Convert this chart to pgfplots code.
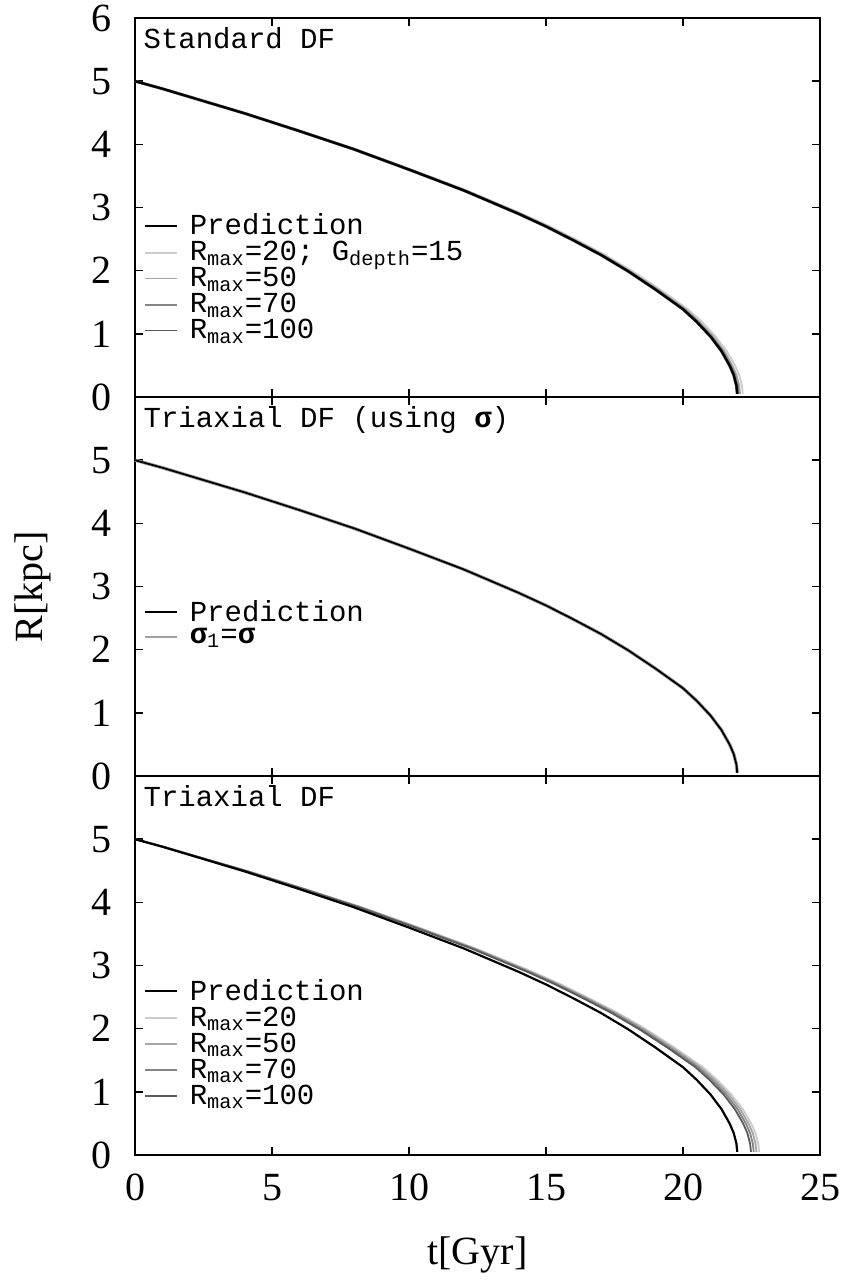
\documentclass[border=0pt]{standalone}
\usepackage{pgfplots}
\pgfplotsset{compat=1.18}
\usepackage{pgfplotstable}
\usepackage{fontspec}
\setmainfont{Liberation Serif}
\newfontfamily\mono{Liberation Mono}
\newcommand{\sig}{{\bfseries σ}}
\definecolor{g20}{HTML}{CCCCCC}
\definecolor{g50}{HTML}{A6A6A6}
\definecolor{g70}{HTML}{858585}
\definecolor{g100}{HTML}{5A5A5A}
\definecolor{gs}{HTML}{A0A0A0}

\pgfplotstableread{
t R t20 t50 t70
0 5.00 0 0 0
1 4.88 1.01 1.00 1.00
2 4.75 2.02 2.01 2.00
3 4.62 3.03 3.01 3.01
4 4.49 4.04 4.02 4.01
6 4.21 6.05 6.03 6.01
8 3.92 8.07 8.04 8.02
10 3.60 10.09 10.05 10.02
12 3.27 12.11 12.05 12.03
14 2.90 14.13 14.06 14.03
15 2.70 15.14 15.07 15.03
16 2.48 16.15 16.07 16.04
17 2.25 17.15 17.08 17.04
18 1.99 18.16 18.08 18.04
19 1.70 19.17 19.09 19.04
20 1.39 20.18 20.09 20.05
20.5 1.19 20.69 20.59 20.55
21 0.96 21.19 21.10 21.05
21.4 0.73 21.59 21.50 21.45
21.7 0.50 21.90 21.80 21.75
21.85 0.35 22.05 21.95 21.90
21.95 0.18 22.15 22.05 22.00
21.98 0.05 22.18 22.08 22.03
}\toptab

\pgfplotstableread{
t R t20 t50 t70 t100
0 5.00 0 0 0 0
1 4.88 1.036 1.032 1.027 1.023
2 4.75 2.073 2.064 2.055 2.045
3 4.62 3.109 3.095 3.082 3.068
4 4.49 4.145 4.127 4.109 4.091
6 4.21 6.218 6.191 6.164 6.136
8 3.92 8.291 8.255 8.218 8.182
10 3.60 10.364 10.318 10.273 10.227
12 3.27 12.436 12.382 12.327 12.273
14 2.90 14.509 14.445 14.382 14.318
15 2.70 15.545 15.477 15.409 15.341
16 2.48 16.582 16.509 16.436 16.364
17 2.25 17.618 17.541 17.464 17.386
18 1.99 18.655 18.573 18.491 18.409
19 1.70 19.691 19.605 19.518 19.432
20 1.39 20.727 20.636 20.545 20.455
20.5 1.19 21.245 21.152 21.059 20.966
21 0.96 21.764 21.668 21.573 21.477
21.4 0.73 22.178 22.081 21.984 21.886
21.7 0.50 22.489 22.390 22.292 22.193
21.85 0.35 22.644 22.545 22.446 22.347
21.95 0.18 22.748 22.648 22.549 22.449
21.98 0.05 22.779 22.679 22.580 22.480
}\bottab

\pgfplotsset{
  panel/.style={
    scale only axis, width=342.5pt, height=189.5pt,
    anchor=south west,
    xmin=0, xmax=25, ymin=0, ymax=6,
    xtick={0,5,...,25},
    tick align=inside, major tick length=4pt,
    axis line style={line width=1pt},
    every tick/.style={line width=0.8pt, black},
    tick label style={font=\fontsize{20}{24}\selectfont},
    xticklabel style={yshift=-6pt},
    yticklabel style={xshift=-8pt},
    /pgf/number format/assume math mode=true,
    legend style={draw=none, fill=none, font=\mono\fontsize{14.5}{15}\selectfont,
      anchor=north west, row sep=-2.2pt, inner sep=0pt, cells={anchor=west}},
    legend cell align=left,
    legend image code/.code={\draw[#1] (0pt,0pt) -- (16pt,0pt); \path (20pt,0pt);},
    clip=false,
  },
  pred/.style={black, line width=1.1pt},
}

\begin{document}
\begin{tikzpicture}
% top panel
\begin{axis}[panel, at={(67.5pt,443.5pt)}, ytick={0,...,6}, xticklabels={},
  legend style={at={(axis description cs:0.012,0.495)}}]
\addlegendimage{pred}\addlegendentry{Prediction}
\addlegendimage{g20, line width=0.9pt}\addlegendentry{R\textsubscript{max}=20; G\textsubscript{depth}=15}
\addlegendimage{g50, line width=0.9pt}\addlegendentry{R\textsubscript{max}=50}
\addlegendimage{g70, line width=0.9pt}\addlegendentry{R\textsubscript{max}=70}
\addlegendimage{g100, line width=0.9pt}\addlegendentry{R\textsubscript{max}=100}
\addplot[g20, line width=0.9pt, forget plot] table[x=t20, y=R] {\toptab};
\addplot[g50, line width=0.9pt, forget plot] table[x=t50, y=R] {\toptab};
\addplot[g70, line width=0.9pt, forget plot] table[x=t70, y=R] {\toptab};
\addplot[g100, line width=1.5pt, forget plot] table[x=t, y=R] {\toptab};
\addplot[pred, forget plot] table[x=t, y=R] {\toptab};
\node[anchor=north west, inner sep=0pt, font=\mono\fontsize{14.5}{17}\selectfont]
  at (axis description cs:0.012,0.975) {Standard DF};
\end{axis}
% middle panel
\begin{axis}[panel, at={(67.5pt,254pt)}, ytick={0,...,5}, xticklabels={},
  ylabel={R[kpc]}, ylabel style={font=\fontsize{20}{24}\selectfont, at={(axis description cs:-0.149,0.5)}, anchor=center},
  legend style={at={(axis description cs:0.012,0.475)}}]
\addlegendimage{pred}\addlegendentry{Prediction}
\addlegendimage{gs, line width=0.9pt}\addlegendentry{\sig\textsubscript{1}=\sig}
\addplot[gs, line width=1.7pt, forget plot] table[x=t, y=R] {\toptab};
\addplot[pred, line width=0.9pt, forget plot] table[x=t, y=R] {\toptab};
\node[anchor=north west, inner sep=0pt, font=\mono\fontsize{14.5}{17}\selectfont]
  at (axis description cs:0.012,0.975) {Triaxial DF (using \sig)};
\end{axis}
% bottom panel
\begin{axis}[panel, at={(67.5pt,64.5pt)}, ytick={0,...,5},
  xlabel={t[Gyr]}, xlabel style={font=\fontsize{20}{24}\selectfont, at={(axis description cs:0.5,-0.264)}, anchor=center},
  legend style={at={(axis description cs:0.012,0.475)}}]
\addlegendimage{pred}\addlegendentry{Prediction}
\addlegendimage{g20, line width=0.9pt}\addlegendentry{R\textsubscript{max}=20}
\addlegendimage{g50, line width=0.9pt}\addlegendentry{R\textsubscript{max}=50}
\addlegendimage{g70, line width=0.9pt}\addlegendentry{R\textsubscript{max}=70}
\addlegendimage{g100, line width=0.9pt}\addlegendentry{R\textsubscript{max}=100}
\addplot[g20, line width=0.9pt, forget plot] table[x=t20, y=R] {\bottab};
\addplot[g50, line width=0.9pt, forget plot] table[x=t50, y=R] {\bottab};
\addplot[g70, line width=0.9pt, forget plot] table[x=t70, y=R] {\bottab};
\addplot[g100, line width=0.9pt, forget plot] table[x=t100, y=R] {\bottab};
\addplot[pred, forget plot] table[x=t, y=R] {\bottab};
\node[anchor=north west, inner sep=0pt, font=\mono\fontsize{14.5}{17}\selectfont]
  at (axis description cs:0.012,0.975) {Triaxial DF};
\end{axis}
\pgfresetboundingbox
\path[use as bounding box] (0,0) rectangle (421pt,642pt);
\end{tikzpicture}
\end{document}
